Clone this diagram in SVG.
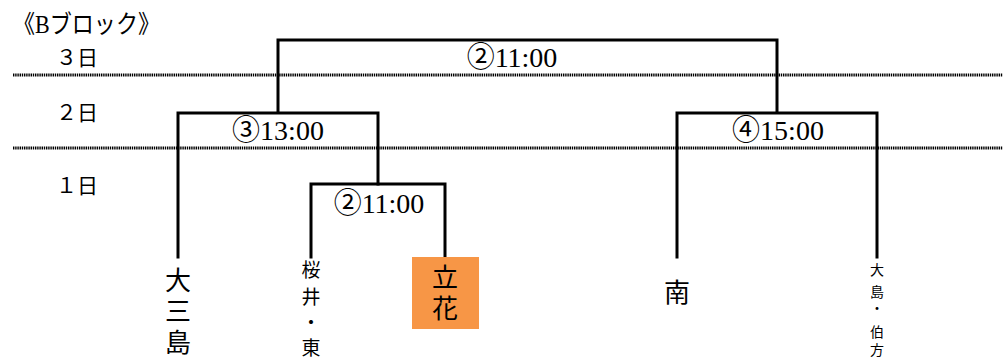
<svg xmlns="http://www.w3.org/2000/svg" width="1003" height="360" viewBox="0 0 1003 360">
<style>
.t{font-family:"Liberation Serif","Noto Sans CJK JP",serif;fill:#000}
.c{text-anchor:middle}
.ln{stroke:#000;stroke-width:3;fill:none;stroke-linecap:square}
.dot{stroke:#000;stroke-width:3;stroke-dasharray:1.4 0.8;fill:none}
</style>
<rect width="1003" height="360" fill="#fff"/>
<g id="grid">
<line class="dot" x1="13" y1="75" x2="1003" y2="75"/>
<line class="dot" x1="13" y1="148" x2="1003" y2="148"/>
</g>
<g id="labels">
<text class="t" x="13" y="33" font-size="25" textLength="147" lengthAdjust="spacingAndGlyphs">《Bブロック》</text>
<text class="t" x="56" y="65" font-size="21">３日</text>
<text class="t" x="56" y="120" font-size="21">２日</text>
<text class="t" x="56" y="193" font-size="21">１日</text>
</g>
<g id="connectors">
<path class="ln" d="M278 112 V40 H777 V112"/>
<path class="ln" d="M178 257 V113 H378 V184"/>
<path class="ln" d="M311 257 V184 H445 V257"/>
<path class="ln" d="M677 257 V113 H877 V257"/>
</g>
<g id="match-final"><text class="t c" x="512" y="67" font-size="28">②11:00</text></g>
<g id="match-3"><text class="t c" x="278" y="140" font-size="28">③13:00</text></g>
<g id="match-2"><text class="t c" x="379" y="213" font-size="28">②11:00</text></g>
<g id="match-4"><text class="t c" x="778" y="140" font-size="28">④15:00</text></g>
<g id="team-omishima">
<text class="t c" font-size="26"><tspan x="178" y="290">大</tspan><tspan x="178" y="321">三</tspan><tspan x="178" y="352">島</tspan></text>
</g>
<g id="team-sakurai">
<text class="t c" font-size="19"><tspan x="311" y="277">桜</tspan><tspan x="311" y="304">井</tspan><tspan x="311" y="330">・</tspan><tspan x="311" y="355">東</tspan></text>
</g>
<g id="team-tachibana">
<rect x="412" y="257" width="67" height="72" fill="#F79646"/>
<text class="t c" font-size="26"><tspan x="445" y="287">立</tspan><tspan x="445" y="318">花</tspan></text>
</g>
<g id="team-minami">
<text class="t c" x="677" y="302" font-size="26">南</text>
</g>
<g id="team-oshima">
<text class="t c" font-size="14"><tspan x="877" y="275">大</tspan><tspan x="877" y="297">島</tspan><tspan x="877" y="313">・</tspan><tspan x="877" y="337">伯</tspan><tspan x="877" y="355">方</tspan></text>
</g>
</svg>
